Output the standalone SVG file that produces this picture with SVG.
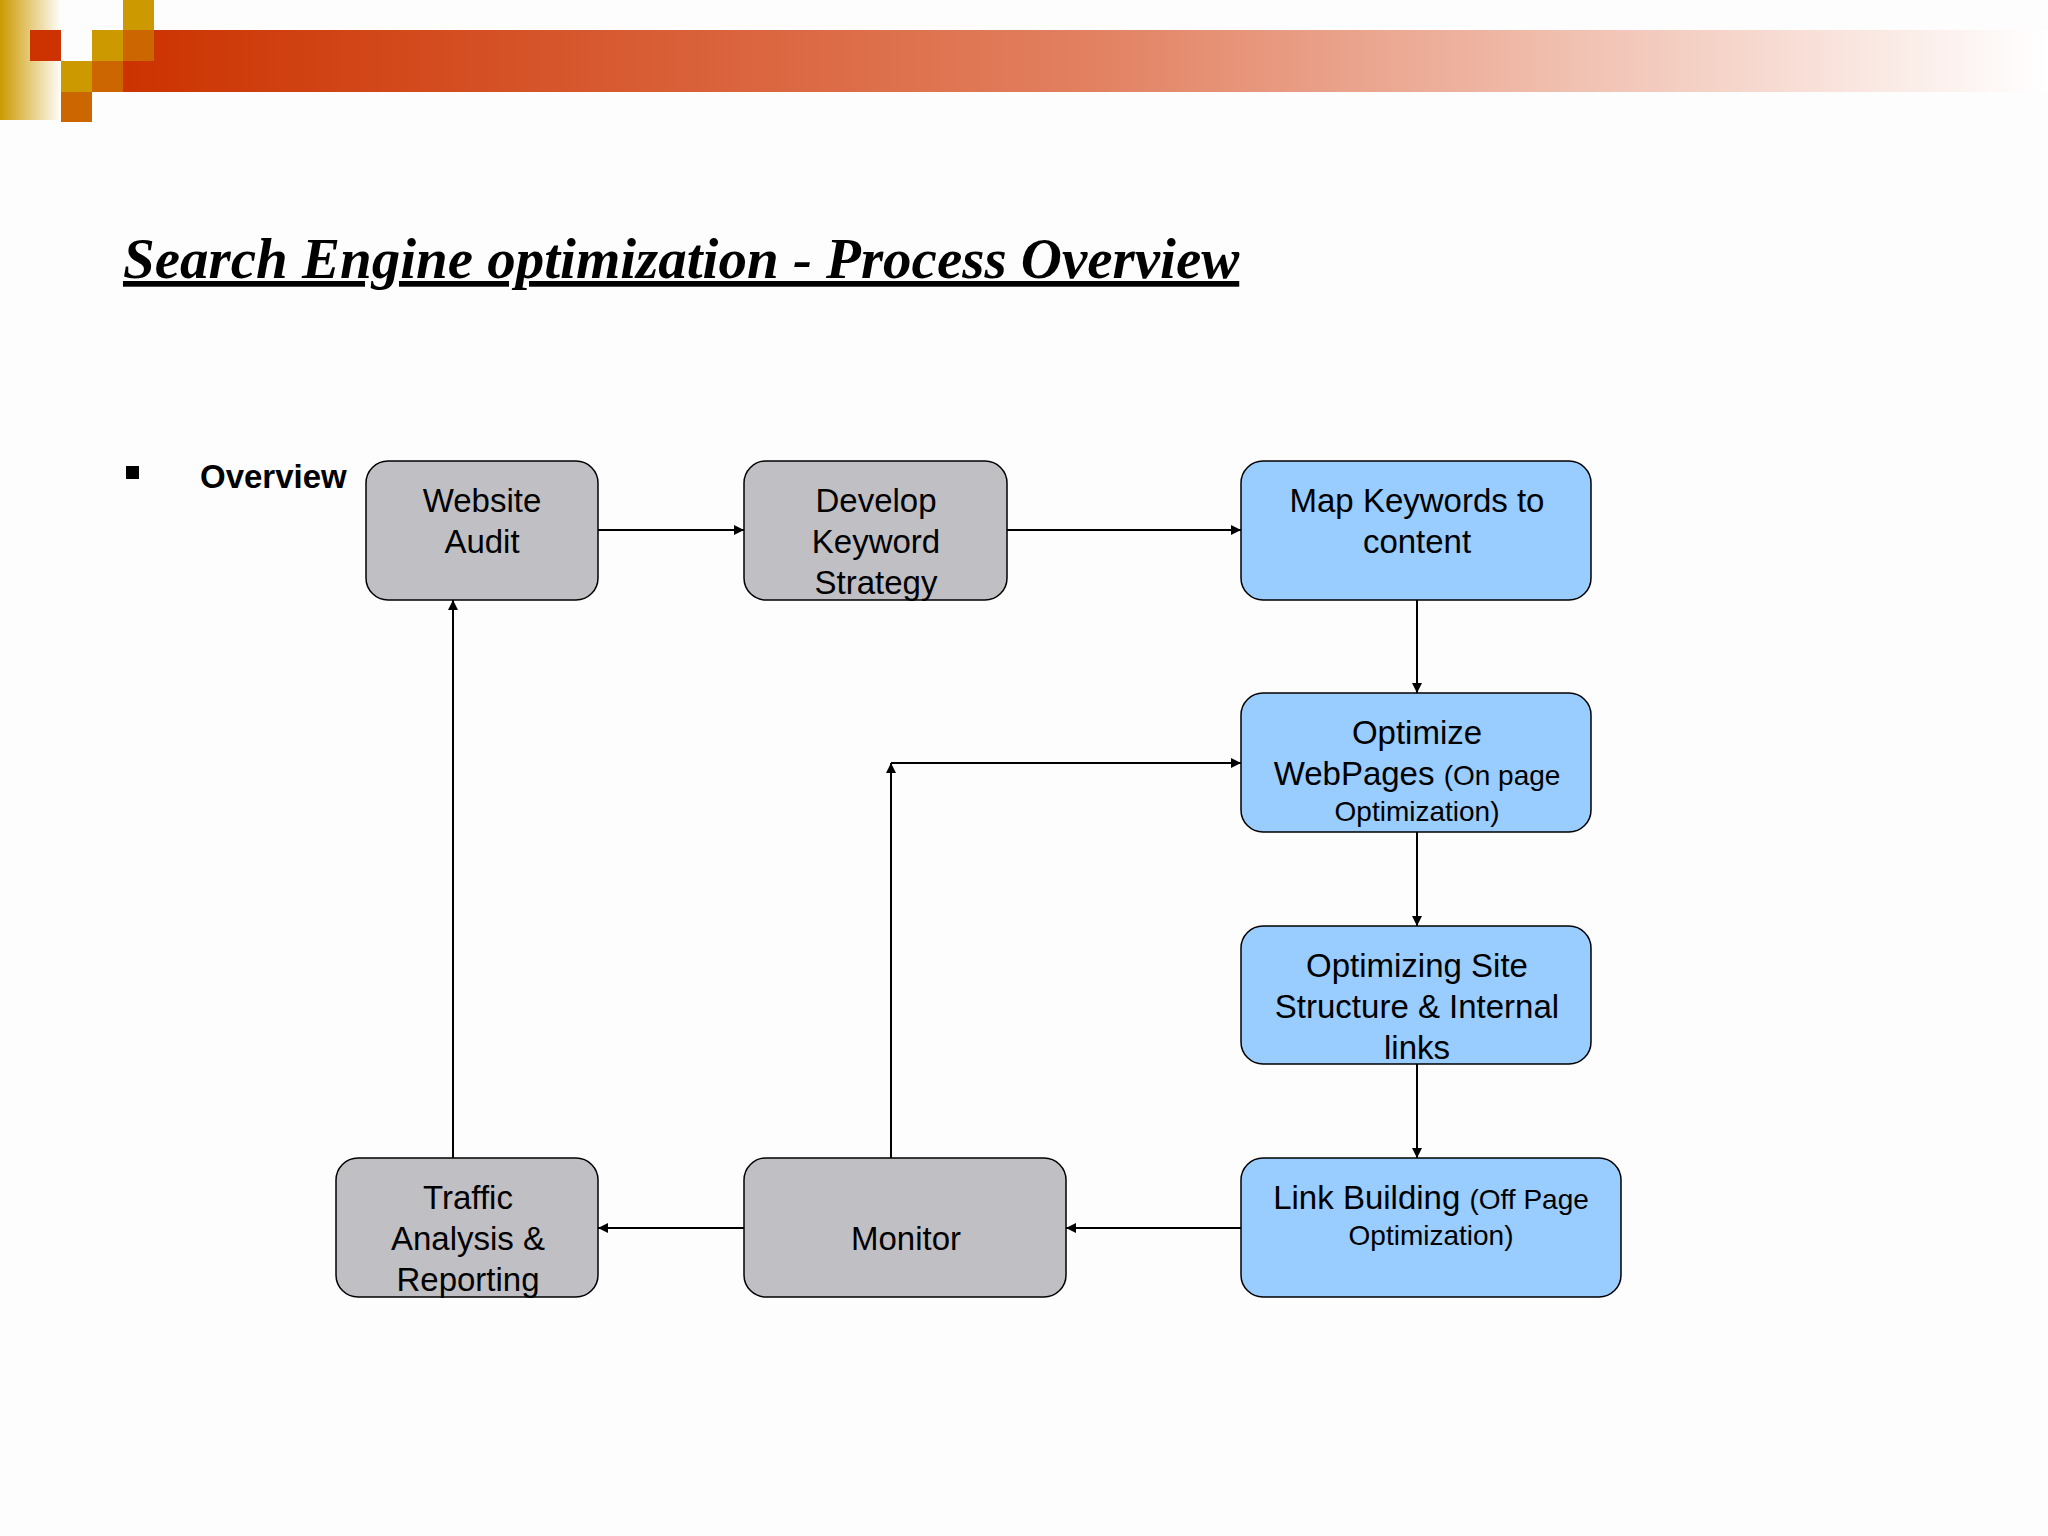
<svg xmlns="http://www.w3.org/2000/svg" width="2048" height="1536" viewBox="0 0 2048 1536">
<defs>
<linearGradient id="band" x1="0" x2="1" y1="0" y2="0"><stop offset="0" stop-color="#cc3300"/><stop offset="0.5" stop-color="#e28060"/><stop offset="1" stop-color="#ffffff"/></linearGradient>
<linearGradient id="gold" x1="0" x2="1" y1="0" y2="0"><stop offset="0" stop-color="#cc9900"/><stop offset="1" stop-color="#ffffff"/></linearGradient>
<marker id="ah" viewBox="0 0 10 10" refX="10" refY="5" markerWidth="10" markerHeight="10" markerUnits="userSpaceOnUse" orient="auto"><path d="M0,0L10,5L0,10z" fill="#000"/></marker>
<style>
.g{fill:#c0bfc4;stroke:#000;stroke-width:1.5}
.b{fill:#99ccff;stroke:#000;stroke-width:1.5}
.t{font-family:"Liberation Sans",Arial,sans-serif;font-size:33px;text-anchor:middle;fill:#000}
.s{font-size:28px}
.c{fill:none;stroke:#000;stroke-width:2;marker-end:url(#ah)}
</style>
</defs>
<rect width="2048" height="1536" fill="#fdfdfd"/>
<rect x="0" y="0" width="62" height="120" fill="url(#gold)"/>
<rect x="123" y="30" width="1925" height="62" fill="url(#band)"/>
<rect x="30" y="30" width="31" height="31" fill="#cc3300"/>
<rect x="123" y="0" width="31" height="30" fill="#cc9900"/>
<rect x="92" y="30" width="31" height="31" fill="#cc9900"/>
<rect x="123" y="30" width="31" height="31" fill="#cc6600"/>
<rect x="61" y="61" width="31" height="31" fill="#cc9900"/>
<rect x="92" y="61" width="31" height="31" fill="#cc6600"/>
<rect x="61" y="92" width="31" height="30" fill="#cc6600"/>
<text x="123" y="278" font-family="Liberation Serif,serif" font-size="57" font-style="italic" font-weight="bold" text-decoration="underline">Search Engine optimization - Process Overview</text>
<rect x="126" y="466" width="13" height="13" fill="#000"/>
<text x="200" y="488" font-family="Liberation Sans,Arial,sans-serif" font-size="33" font-weight="bold">Overview</text>
<g id="connectors">
<path class="c" d="M598,530H744"/>
<path class="c" d="M1007,530H1241"/>
<path class="c" d="M1417,600V693"/>
<path class="c" d="M1417,832V926"/>
<path class="c" d="M1417,1064V1158"/>
<path class="c" d="M1241,1228H1066"/>
<path class="c" d="M744,1228H598"/>
<path class="c" d="M453,1158V600"/>
<path class="c" d="M891,1158V763"/>
<path class="c" d="M891,763H1241"/>
</g>
<g id="audit"><rect class="g" x="366" y="461" width="232" height="139" rx="22"/><text class="t" x="482" y="512">Website</text><text class="t" x="482" y="553">Audit</text></g>
<g id="develop"><rect class="g" x="744" y="461" width="263" height="139" rx="22"/><text class="t" x="876" y="512">Develop</text><text class="t" x="876" y="553">Keyword</text><text class="t" x="876" y="594">Strategy</text></g>
<g id="map"><rect class="b" x="1241" y="461" width="350" height="139" rx="22"/><text class="t" x="1417" y="512">Map Keywords to</text><text class="t" x="1417" y="553">content</text></g>
<g id="optimize"><rect class="b" x="1241" y="693" width="350" height="139" rx="22"/><text class="t" x="1417" y="744">Optimize</text><text class="t" x="1417" y="785">WebPages <tspan class="s">(On page</tspan></text><text class="t s" x="1417" y="821">Optimization)</text></g>
<g id="structure"><rect class="b" x="1241" y="926" width="350" height="138" rx="22"/><text class="t" x="1417" y="977">Optimizing Site</text><text class="t" x="1417" y="1018">Structure &amp; Internal</text><text class="t" x="1417" y="1059">links</text></g>
<g id="link"><rect class="b" x="1241" y="1158" width="380" height="139" rx="22"/><text class="t" x="1431" y="1209">Link Building <tspan class="s">(Off Page</tspan></text><text class="t s" x="1431" y="1245">Optimization)</text></g>
<g id="monitor"><rect class="g" x="744" y="1158" width="322" height="139" rx="22"/><text class="t" x="906" y="1250">Monitor</text></g>
<g id="traffic"><rect class="g" x="336" y="1158" width="262" height="139" rx="22"/><text class="t" x="468" y="1209">Traffic</text><text class="t" x="468" y="1250">Analysis &amp;</text><text class="t" x="468" y="1291">Reporting</text></g>
</svg>
